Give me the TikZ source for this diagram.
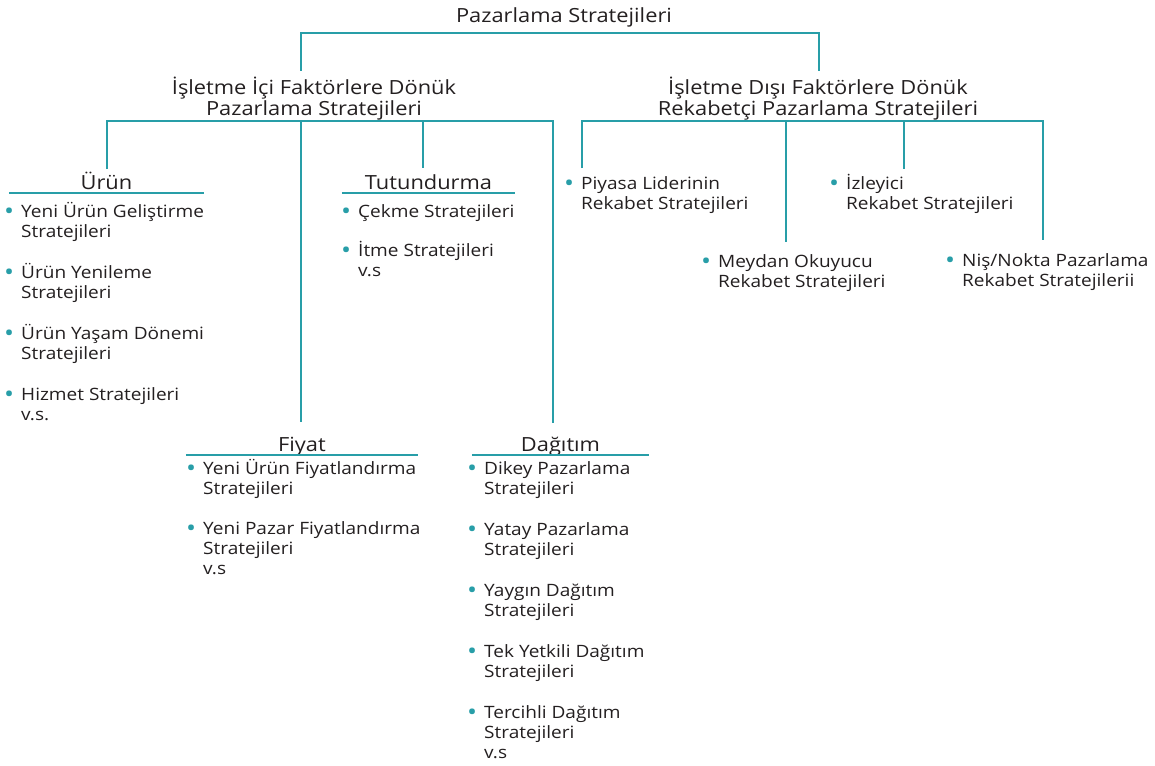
\documentclass[tikz,border=0pt]{standalone}
\usepackage{graphicx}
\usepackage{fontspec}
\setmainfont[FakeStretch=1.12]{Open Sans}
\definecolor{cizgi}{RGB}{40,158,168}
\definecolor{yazi}{RGB}{35,31,32}
\newcommand{\mad}{\llap{\textcolor{cizgi}{\raisebox{-2.4pt}{\scalebox{1.4}{\textbullet}}}\hspace{7pt}}}

\begin{document}
\begin{tikzpicture}[x=1pt,y=-1pt,
        every node/.style={text=yazi,inner sep=0pt},
        hat/.style={draw=cizgi,line width=2pt},
        ust/.style={font=\fontsize{19.5}{21}\selectfont,align=center,anchor=base},
        baslik/.style={font=\fontsize{19.5}{21}\selectfont,anchor=base,text depth=4pt},
        liste/.style={font=\fontsize{17}{20}\selectfont,align=left,anchor=base west}]
            \useasboundingbox (0,0) rectangle (1155,765);
            \begin{scope}
                \node[name=kok, ust] at (564,23) (kok) {Pazarlama Stratejileri};
                \node[name=ic, ust] at (314,116) (ic) {İşletme İçi Faktörlere Dönük\\Pazarlama Stratejileri};
                \node[name=dis, ust] at (818,116) (dis) {İşletme Dışı Faktörlere Dönük\\Rekabetçi Pazarlama Stratejileri};
                \node[name=urun, baslik, minimum width=195pt] at (106.5,189) (urun) {Ürün};
                \node[name=tut, baslik, minimum width=173pt] at (428.5,189) (tut) {Tutundurma};
                \node[name=fiy, baslik, minimum width=232pt] at (302,451) (fiy) {Fiyat};
                \node[name=dag, baslik, minimum width=177pt] at (560.5,451) (dag) {Dağıtım};
                \node[name=urunL, liste] at (21,420) (urunL) {\mad Yeni Ürün Geliştirme\\Stratejileri\\[21pt]\mad Ürün Yenileme\\Stratejileri\\[21pt]\mad Ürün Yaşam Dönemi\\Stratejileri\\[21pt]\mad Hizmet Stratejileri\\v.s.};
                \node[name=tutL, liste] at (358,276) (tutL) {\mad Çekme Stratejileri\\[19pt]\mad İtme Stratejileri\\v.s};
                \node[name=fiyL, liste] at (203,574) (fiyL) {\mad Yeni Ürün Fiyatlandırma\\Stratejileri\\[20pt]\mad Yeni Pazar Fiyatlandırma\\Stratejileri\\v.s};
                \node[name=dagL, liste] at (484,758) (dagL) {\mad Dikey Pazarlama\\Stratejileri\\[21pt]\mad Yatay Pazarlama\\Stratejileri\\[21pt]\mad Yaygın Dağıtım\\Stratejileri\\[21pt]\mad Tek Yetkili Dağıtım\\Stratejileri\\[21pt]\mad Tercihli Dağıtım\\Stratejileri\\v.s};
                \node[name=piy, liste] at (581,209) (piy) {\mad Piyasa Liderinin\\Rekabet Stratejileri};
                \node[name=izl, liste] at (846,209) (izl) {\mad İzleyici\\Rekabet Stratejileri};
                \node[name=mey, liste] at (718,287) (mey) {\mad Meydan Okuyucu\\Rekabet Stratejileri};
                \node[name=nis, liste] at (962,286) (nis) {\mad Niş/Nokta Pazarlama\\Rekabet Stratejilerii};
                \coordinate (kokHat) at (564,33);
                \coordinate (icUst) at (301,71);
                \coordinate (disUst) at (819,71);
                \coordinate (icHat) at (314,121);
                \coordinate (disHat) at (818,121);
                \coordinate (urunUst) at (107,169);
                \coordinate (tutUst) at (423,168);
                \coordinate (fiyUst) at (301,422);
                \coordinate (dagUst) at (553,423);
                \coordinate (piyUst) at (582,168);
                \coordinate (meyUst) at (786,242);
                \coordinate (izlUst) at (904,169);
                \coordinate (nisUst) at (1043,240);
                \draw[hat] (icUst) |- (kokHat) -| (disUst);
                \draw[hat] (urunUst) |- (icHat) -| (dagUst);
                \draw[hat] (icHat -| fiyUst) -- (fiyUst);
                \draw[hat] (icHat -| tutUst) -- (tutUst);
                \draw[hat] (piyUst) |- (disHat) -| (nisUst);
                \draw[hat] (disHat -| meyUst) -- (meyUst);
                \draw[hat] (disHat -| izlUst) -- (izlUst);
                \draw[hat] (urun.south west) -- (urun.south east);
                \draw[hat] (tut.south west) -- (tut.south east);
                \draw[hat] (fiy.south west) -- (fiy.south east);
                \draw[hat] (dag.south west) -- (dag.south east);
            \end{scope}
        \end{tikzpicture}
\end{document}
